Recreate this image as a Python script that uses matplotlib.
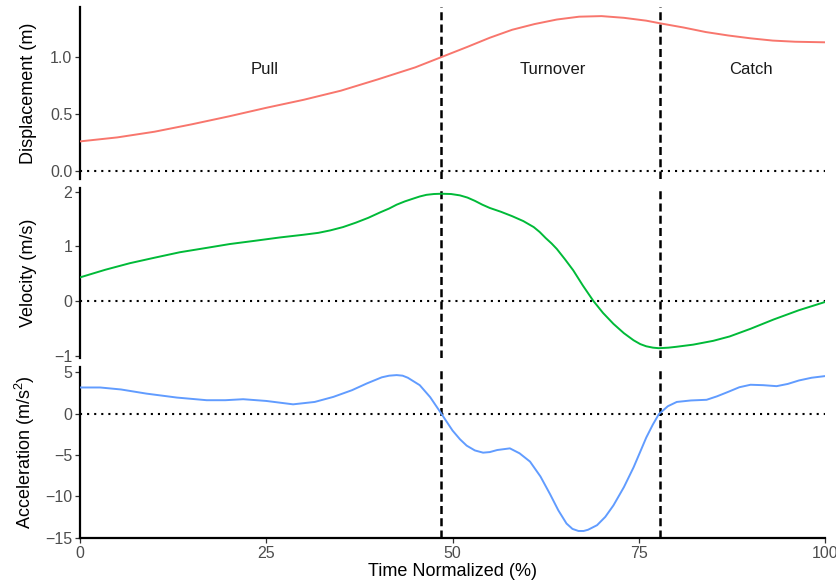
import matplotlib
matplotlib.use("Agg")
import matplotlib.pyplot as plt

# time axis (% of the lift) and readings
disp_t = [0, 5, 10, 15, 20, 25, 30, 35, 40, 45, 48.5, 52, 55, 58, 61, 64, 67, 70,
          73, 76, 78, 81, 84, 87, 90, 93, 96, 100]
disp = [0.26, 0.295, 0.345, 0.41, 0.48, 0.555, 0.625, 0.705, 0.805, 0.91, 1.0, 1.09,
        1.17, 1.24, 1.29, 1.33, 1.355, 1.36, 1.345, 1.32, 1.295, 1.26, 1.22, 1.19,
        1.165, 1.145, 1.135, 1.13]

vel_t = [0, 3.4, 6.7, 10, 13.4, 17, 20.1, 23.5, 26.8, 30, 32, 33.6, 35.3, 37, 38.7,
         40.3, 41.5, 42.5, 43.6, 44.7, 45.6, 46.5, 47.5, 48.5, 49.8, 51, 52, 53, 54,
         55, 56.5, 58, 59.5, 60.9, 61.7, 62.5, 63.3, 64, 65.1, 66.2, 67.5, 68.9,
         70.2, 71.6, 73, 74.3, 75.2, 76, 76.9, 77.7, 79, 80, 82.3, 85, 87.2, 90,
         93.1, 96.5, 100]
vel = [0.43, 0.57, 0.69, 0.79, 0.89, 0.97, 1.04, 1.10, 1.16, 1.21, 1.245, 1.29,
       1.35, 1.43, 1.52, 1.62, 1.69, 1.76, 1.82, 1.87, 1.91, 1.94, 1.955, 1.96,
       1.955, 1.93, 1.89, 1.83, 1.76, 1.70, 1.63, 1.55, 1.46, 1.35, 1.26, 1.15,
       1.05, 0.95, 0.76, 0.56, 0.28, 0.0, -0.22, -0.42, -0.59, -0.72, -0.79,
       -0.83, -0.855, -0.865, -0.855, -0.84, -0.80, -0.73, -0.65, -0.51, -0.34,
       -0.17, -0.02]

acc_t = [0, 2.7, 5.5, 8.9, 13, 17, 19.5, 21.9, 25, 28.6, 31.5, 34, 36.5, 38.5,
         40.5, 41.5, 42.5, 43.3, 44, 45.6, 47, 48.5, 50, 51, 51.9, 53, 54.1, 55,
         56, 57.7, 59, 60.4, 61.8, 63.1, 64.2, 65.3, 66.1, 66.9, 67.6, 68.2, 69.4,
         70.5, 71.6, 73, 74.3, 75.2, 76, 76.9, 77.7, 78.9, 80.1, 82, 84.1, 85.5,
         87, 88.5, 90, 91.7, 93.5, 95, 96.5, 98.2, 100]
acc = [3.17, 3.17, 2.93, 2.43, 1.95, 1.63, 1.63, 1.75, 1.54, 1.13, 1.42, 2.03,
       2.84, 3.66, 4.4, 4.6, 4.67, 4.6, 4.35, 3.45, 2.0, 0.0, -2.04, -3.1, -3.87,
       -4.45, -4.72, -4.65, -4.4, -4.2, -4.8, -5.8, -7.6, -9.76, -11.7, -13.3,
       -13.95, -14.2, -14.2, -14.05, -13.5, -12.5, -11.1, -8.9, -6.5, -4.6, -2.9,
       -1.3, -0.05, 0.9, 1.42, 1.6, 1.68, 2.1, 2.64, 3.2, 3.5, 3.45, 3.33, 3.6,
       4.02, 4.35, 4.55]

phase_bounds = [48.5, 77.8]
phase_names = ["Pull", "Turnover", "Catch"]
phase_x = [24.8, 63.5, 90.0]

plt.rcParams['font.family'] = ['Liberation Sans', 'DejaVu Sans']
plt.rcParams['mathtext.fontset'] = 'custom'
plt.rcParams['mathtext.rm'] = 'Liberation Sans'
plt.rcParams['mathtext.default'] = 'regular'

fig = plt.figure(figsize=(8.37, 5.83), dpi=100)
ax1 = fig.add_axes([0.0956, 0.6930, 0.8901, 0.2950])
ax2 = fig.add_axes([0.0956, 0.3854, 0.8901, 0.2926])
ax3 = fig.add_axes([0.0956, 0.0772, 0.8901, 0.2933])

panels = [
    (ax1, disp_t, disp, '#F8766D', 'Displacement (m)', (-0.07, 1.44), [0, 0.5, 1.0]),
    (ax2, vel_t, vel, '#00BA38', 'Velocity (m/s)', (-1.05, 2.07), [-1, 0, 1, 2]),
    (ax3, acc_t, acc, '#619CFF', 'Acceleration (m/s$^2$)', (-15.05, 5.65), [-15, -10, -5, 0, 5]),
]

for ax, t, y, col, lab, lim, ticks in panels:
    ax.plot(t, y, color=col, lw=1.4, zorder=3)
    ax.axhline(0, color='black', lw=1.5, linestyle=(0, (1, 2.4)), zorder=2)
    for b in phase_bounds:
        ax.axvline(b, color='black', lw=1.8, linestyle=(0, (3.2, 1.7)), zorder=2)
    ax.set_xlim(0, 100)
    ax.set_ylim(*lim)
    ax.set_yticks(ticks)
    ax.set_ylabel(lab, fontsize=13, color='black')
    ax.yaxis.set_label_coords(-0.058, 0.5)
    for s in ['top', 'right']:
        ax.spines[s].set_visible(False)
    ax.spines['left'].set_linewidth(1.6)
    ax.spines['bottom'].set_linewidth(1.6)
    ax.tick_params(axis='both', length=3.5, width=0.9, color='#333333',
                   labelsize=11.5, labelcolor='#4D4D4D', pad=2)

ax1.set_yticklabels(['0.0', '0.5', '1.0'])
for ax in (ax1, ax2):
    ax.spines['bottom'].set_visible(False)
    ax.tick_params(axis='x', bottom=False, labelbottom=False)

ax3.set_xticks([0, 25, 50, 75, 100])
ax3.set_xlabel('Time Normalized (%)', fontsize=13, color='black', labelpad=2)

for name, x in zip(phase_names, phase_x):
    ax1.text(x, 0.89, name, ha='center', va='center', fontsize=12, color='#1A1A1A')

fig.savefig('out.png', dpi=100)
